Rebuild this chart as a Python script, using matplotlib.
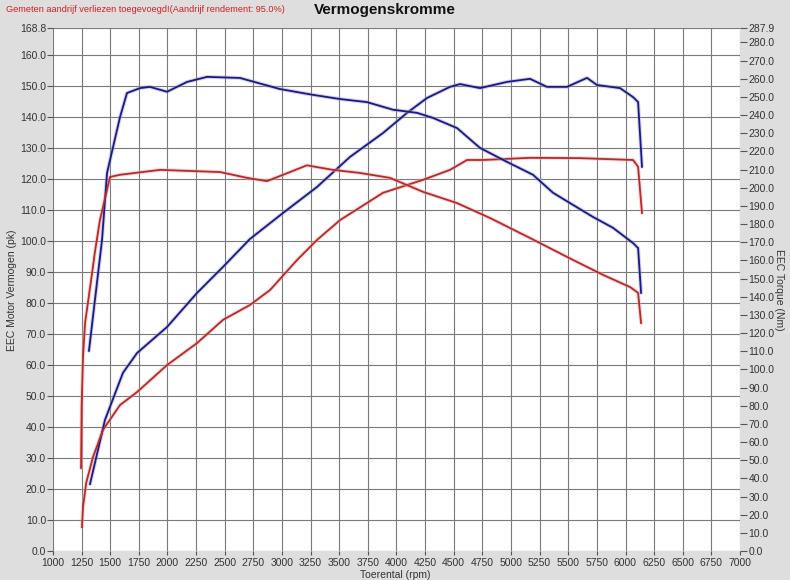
import matplotlib.pyplot as plt
import numpy as np

plt.switch_backend("agg")
plt.rcParams["font.family"] = ["Liberation Sans", "DejaVu Sans"]

# ---- data ----
# blue run: torque (Nm) and power (pk)
blue_tq_rpm = [1314, 1428, 1472, 1585, 1646, 1760, 1847, 1996, 2170, 2345, 2633, 2982, 3270,
               3507, 3742, 3970, 4179, 4319, 4529, 4729, 4965, 5192, 5367, 5542, 5716, 5891,
               6066, 6110, 6136]
blue_tq = [110.2, 171.2, 208.1, 238.8, 252.1, 254.8, 255.5, 252.8, 258.2, 261.0, 260.4, 254.3,
           251.1, 248.8, 247.1, 242.9, 241.2, 238.4, 232.8, 221.9, 214.2, 207.1, 197.2, 190.5,
           183.9, 177.9, 169.5, 166.8, 142.1]

blue_pw_rpm = [1323, 1454, 1611, 1734, 1996, 2258, 2485, 2720, 3009, 3306, 3594, 3882, 4092,
               4266, 4467, 4555, 4729, 4965, 5166, 5314, 5489, 5664, 5751, 5952, 6066, 6110, 6144]
blue_pw = [21.6, 42.3, 57.5, 63.9, 72.3, 83.3, 91.7, 100.7, 109.1, 117.5, 127.2, 134.9, 141.4,
           146.2, 149.8, 150.7, 149.4, 151.4, 152.4, 149.8, 149.8, 152.7, 150.4, 149.4, 146.5,
           144.9, 124.0]

# red run: torque (Nm) and power (pk)
red_tq_rpm = [1245, 1250, 1262, 1280, 1349, 1365, 1410, 1498, 1585, 1935, 2459, 2695, 2869,
              3218, 3445, 3681, 3943, 4232, 4529, 4817, 5166, 5542, 5804, 6040, 6110, 6136]
red_tq = [45.7, 79.3, 106.8, 125.5, 156.4, 164.1, 182.2, 205.9, 207.1, 209.8, 208.6, 205.4,
          203.6, 212.3, 209.8, 208.1, 205.4, 197.7, 191.5, 183.3, 172.3, 160.2, 152.0, 145.3,
          142.1, 125.5]

red_pw_rpm = [1253, 1262, 1290, 1349, 1437, 1585, 1734, 1996, 2258, 2485, 2720, 2895, 3131,
              3306, 3507, 3882, 4232, 4467, 4616, 4756, 5166, 5600, 6066, 6110, 6144]
red_pw = [7.7, 14.2, 22.0, 30.3, 39.1, 47.1, 51.3, 60.0, 67.1, 74.6, 79.4, 84.2, 93.9,
          100.4, 106.8, 115.6, 119.8, 123.0, 126.2, 126.2, 126.9, 126.8, 126.2, 124.0, 109.1]

pk_max = 168.8
nm_max = 287.9
x_ticks = list(range(1000, 7001, 250))
pk_ticks = [i * 10 for i in range(17)] + [pk_max]
nm_ticks = [i * 10 for i in range(29)] + [nm_max]

bg = "#dedede"
blue = "#1a1a80"
red = "#b52a2a"
tick_col = "#333333"

fig = plt.figure(figsize=(7.9, 5.8), dpi=100, facecolor=bg)
ax = fig.add_axes([53 / 790, 29 / 580, 687 / 790, 523 / 580])
ax.set_facecolor("white")
ax2 = ax.twinx()

ax.set_xlim(1000, 7000)
ax.set_ylim(0, pk_max)
ax2.set_ylim(0, nm_max)

# halo + main line
for a, xs, ys, col, halo in [
    (ax, blue_pw_rpm, blue_pw, blue, "#9a9ade"),
    (ax, red_pw_rpm, red_pw, red, "#f3a8a8"),
    (ax2, blue_tq_rpm, blue_tq, blue, "#9a9ade"),
    (ax2, red_tq_rpm, red_tq, red, "#f3a8a8"),
]:
    a.plot(xs, ys, color=halo, lw=2.8, alpha=0.45, solid_capstyle="round", zorder=3)
    a.plot(xs, ys, color=col, lw=1.3, zorder=4)

ax.set_xticks(x_ticks)
ax.set_xticklabels([str(x) for x in x_ticks])
ax.set_yticks(pk_ticks)
ax.set_yticklabels([f"{v:.1f}" for v in pk_ticks])
ax2.set_yticks(nm_ticks)
ax2.set_yticklabels([f"{v:.1f}" for v in nm_ticks])

ax.grid(True, color="#7a7a7a", lw=0.8)
ax.set_axisbelow(True)
for a in (ax, ax2):
    for s in a.spines.values():
        s.set_visible(False)
ax.tick_params(axis="both", labelsize=7.5, colors="#555555", labelcolor=tick_col, length=4, width=0.8, pad=1)
ax.tick_params(axis="x", length=3, pad=2)
ax2.tick_params(axis="y", labelsize=7.5, colors="#555555", labelcolor=tick_col, length=5, width=0.8, pad=1)

fig.text(6 / 790, 1 - 9 / 580, "Gemeten aandrijf verliezen toegevoegd!(Aandrijf rendement: 95.0%)",
         color="#cc2020", fontsize=6.6, ha="left", va="center")
fig.text(385 / 790, 1 - 10 / 580, "Vermogenskromme", fontsize=11, fontweight="bold",
         ha="center", va="center", color="#111111")
fig.text(12 / 790, 0.5, "EEC Motor Vermogen (pk)", rotation=90, fontsize=7.5,
         ha="center", va="center", color=tick_col)
fig.text(779 / 790, 0.5, "EEC Torque (Nm)", rotation=270, fontsize=7.5,
         ha="center", va="center", color=tick_col)
fig.text(395 / 790, 1 - 575 / 580, "Toerental (rpm)", fontsize=7.5,
         ha="center", va="center", color=tick_col)

fig.savefig("out.png", dpi=100, facecolor=bg)
